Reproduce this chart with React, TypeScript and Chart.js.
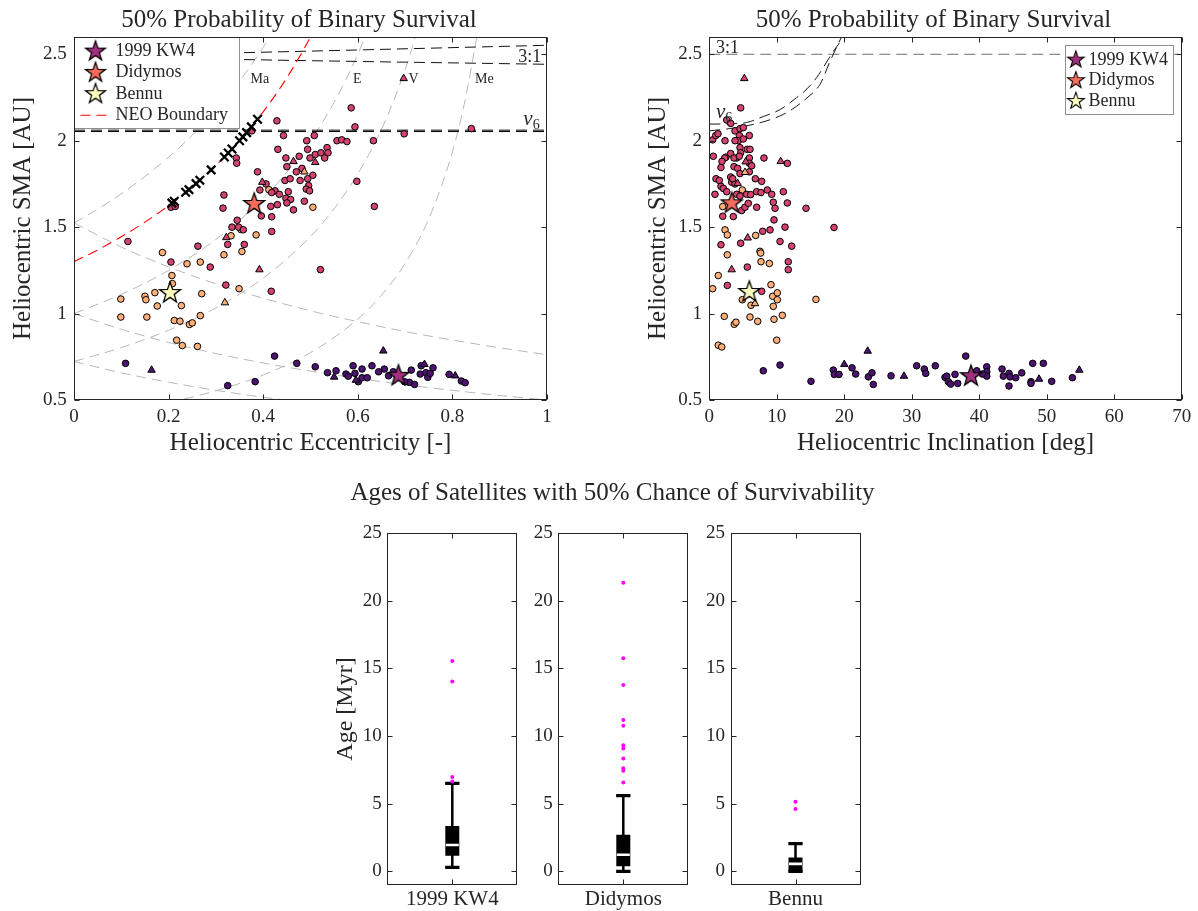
import React, { useEffect, useRef } from 'react';
import { Chart, registerables } from 'chart.js';

Chart.register(...registerables);

const FONT = '"Liberation Serif", "Times New Roman", serif';
const INK = '#262626';

// ---------- colours
const C_PURPLE = '#4c1470';
const C_CRIMSON = '#d3436e';
const C_ORANGE = '#feb078';
const C_KW4 = '#a1307e';
const C_DIDY = '#f56b5c';
const C_BENNU = '#fcfdbf';

// ---------- tick values
const eccTicks = [0, 0.2, 0.4, 0.6, 0.8, 1];
const incTicks = [0, 10, 20, 30, 40, 50, 60, 70];
const smaTicks = [0.5, 1, 1.5, 2, 2.5];
const ageTicks = [0, 5, 10, 15, 20, 25];

// ---------- targets
const targetNames = ['1999 KW4', 'Didymos', 'Bennu'];
const targetEcc = [0.686, 0.381, 0.203];
const targetSmaLeft = [0.64, 1.634, 1.119];
const targetInc = [38.78, 3.32, 5.93];
const targetSmaRight = [0.638, 1.638, 1.125];

// ---------- left panel: eccentricity vs SMA
const leftCrimsonCircles = [
  [0.429, 2.115], [0.586, 2.19], [0.594, 2.08], [0.443, 2.03], [0.508, 2.03], [0.492, 2.0], [0.556, 2.0],
  [0.566, 2.005], [0.577, 1.995], [0.633, 2.0], [0.431, 1.95], [0.494, 1.95], [0.51, 1.92], [0.522, 1.93],
  [0.535, 1.96], [0.537, 1.93], [0.53, 1.9], [0.476, 1.91], [0.499, 1.9], [0.448, 1.9], [0.343, 1.9],
  [0.344, 1.87], [0.45, 1.85], [0.482, 1.84], [0.505, 1.8], [0.47, 1.82], [0.446, 1.77], [0.457, 1.78],
  [0.478, 1.77], [0.494, 1.78], [0.496, 1.74], [0.491, 1.72], [0.498, 1.71], [0.453, 1.705], [0.425, 1.71],
  [0.434, 1.69], [0.598, 1.765], [0.388, 1.82], [0.406, 1.75], [0.393, 1.715], [0.418, 1.7], [0.317, 1.686],
  [0.315, 1.61], [0.448, 1.667], [0.458, 1.66], [0.487, 1.65], [0.43, 1.63], [0.416, 1.62], [0.45, 1.64],
  [0.464, 1.6], [0.418, 1.56], [0.396, 1.565], [0.345, 1.54], [0.334, 1.5], [0.348, 1.5], [0.358, 1.485],
  [0.418, 1.475], [0.635, 1.62], [0.376, 2.057], [0.205, 1.615], [0.214, 1.62], [0.698, 2.04], [0.84, 2.07],
  [0.114, 1.417], [0.262, 1.39], [0.325, 1.4], [0.36, 1.4], [0.205, 1.298], [0.288, 1.269], [0.521, 1.254],
  [0.321, 1.165], [0.417, 1.129],
];
const leftOrangeCircles = [
  [0.412, 1.717], [0.505, 1.615], [0.353, 1.486], [0.332, 1.45], [0.385, 1.455], [0.355, 1.359], [0.317, 1.34],
  [0.187, 1.353], [0.239, 1.288], [0.267, 1.298], [0.207, 1.22], [0.208, 1.173], [0.349, 1.144], [0.27, 1.115],
  [0.171, 1.121], [0.099, 1.084], [0.15, 1.1], [0.152, 1.08], [0.176, 1.044], [0.227, 1.046], [0.099, 0.98],
  [0.154, 0.98], [0.212, 0.96], [0.224, 0.956], [0.244, 0.937], [0.25, 0.946], [0.267, 0.988], [0.217, 0.846],
  [0.229, 0.815], [0.261, 0.81],
];
const leftPurpleCircles = [
  [0.109, 0.712], [0.424, 0.754], [0.325, 0.583], [0.383, 0.606], [0.471, 0.712], [0.51, 0.692], [0.536, 0.658],
  [0.554, 0.669], [0.575, 0.65], [0.58, 0.638], [0.59, 0.698], [0.594, 0.654], [0.601, 0.606], [0.609, 0.679],
  [0.609, 0.629], [0.62, 0.629], [0.63, 0.698], [0.644, 0.663], [0.656, 0.679], [0.665, 0.64], [0.675, 0.663],
  [0.709, 0.602], [0.713, 0.673], [0.72, 0.59], [0.699, 0.606], [0.734, 0.698], [0.732, 0.65], [0.744, 0.658],
  [0.748, 0.631], [0.753, 0.654], [0.759, 0.686], [0.793, 0.648], [0.819, 0.61], [0.827, 0.6],
];
const leftCrimsonTriangles = [[0.464, 1.88], [0.51, 1.875], [0.398, 1.76], [0.322, 1.44], [0.392, 1.254], [0.697, 2.36]];
const leftOrangeTriangles = [[0.487, 1.82], [0.319, 1.063]];
const leftPurpleTriangles = [[0.164, 0.673], [0.654, 0.784], [0.55, 0.633], [0.596, 0.615], [0.741, 0.706], [0.806, 0.64]];
const neoCrossings = [
  [0.207, 1.639], [0.212, 1.65], [0.236, 1.702], [0.243, 1.717], [0.258, 1.752], [0.266, 1.771], [0.29, 1.831],
  [0.318, 1.906], [0.326, 1.929], [0.334, 1.952], [0.35, 2.0], [0.357, 2.022], [0.365, 2.047], [0.375, 2.08],
  [0.388, 2.124],
];

// reference curves (eccentricity, SMA)
const neoBoundary = [[0, 1.3], [0.05, 1.368], [0.1, 1.444], [0.15, 1.529], [0.2, 1.625], [0.25, 1.733], [0.3, 1.857], [0.35, 2.0], [0.4, 2.167], [0.45, 2.364], [0.5, 2.6], [0.52, 2.708]];
const marsPerihelion = [[0, 1.524], [0.05, 1.604], [0.1, 1.693], [0.15, 1.793], [0.2, 1.905], [0.25, 2.032], [0.3, 2.177], [0.35, 2.345], [0.4, 2.54], [0.42, 2.628]];
const earthPerihelion = [[0, 1], [0.1, 1.111], [0.2, 1.25], [0.3, 1.429], [0.4, 1.667], [0.45, 1.818], [0.5, 2.0], [0.55, 2.222], [0.6, 2.5], [0.62, 2.632]];
const venusPerihelion = [[0, 0.723], [0.1, 0.803], [0.2, 0.904], [0.3, 1.033], [0.4, 1.205], [0.5, 1.446], [0.55, 1.607], [0.6, 1.808], [0.65, 2.066], [0.7, 2.41], [0.73, 2.678]];
const mercuryPerihelion = [[0.2, 0.484], [0.3, 0.553], [0.4, 0.645], [0.5, 0.774], [0.6, 0.968], [0.65, 1.106], [0.7, 1.29], [0.75, 1.548], [0.8, 1.935], [0.825, 2.211], [0.85, 2.58], [0.86, 2.764]];
const marsAphelion = [[0, 1.524], [0.1, 1.385], [0.2, 1.27], [0.3, 1.172], [0.4, 1.089], [0.5, 1.016], [0.6, 0.953], [0.7, 0.896], [0.8, 0.847], [0.9, 0.802], [1, 0.762]];
const earthAphelion = [[0, 1], [0.1, 0.909], [0.2, 0.833], [0.3, 0.769], [0.4, 0.714], [0.5, 0.667], [0.6, 0.625], [0.7, 0.588], [0.8, 0.556], [0.9, 0.526], [1, 0.5]];
const venusAphelion = [[0, 0.723], [0.1, 0.657], [0.2, 0.603], [0.3, 0.556], [0.4, 0.516], [0.5, 0.482]];
const res31UpperEcc = [[0, 2.49], [0.35, 2.509], [1, 2.552]];
const res31LowerEcc = [[0, 2.49], [0.35, 2.47], [1, 2.442]];
const nu6UpperEcc = [[0, 2.061], [1, 2.061]];
const nu6LowerEcc = [[0, 2.053], [1, 2.053]];

// ---------- right panel: inclination vs SMA
const rightCrimsonCircles = [
  [4.65, 2.19], [2.58, 2.12], [3.17, 2.1], [0.5, 2.005], [0.95, 2.03], [1.29, 2.04], [2.33, 2.0], [3.81, 2.057],
  [4.55, 2.07], [5.04, 2.076], [4.45, 2.03], [4.3, 2.0], [5.04, 2.01], [3.81, 2.0], [5.93, 2.03], [4.55, 1.96],
  [4.65, 1.93], [5.63, 1.95], [6.03, 1.95], [0.59, 1.91], [2.47, 1.905], [2.28, 1.9], [3.17, 1.926], [4.06, 1.9],
  [3.66, 1.9], [4.45, 1.91], [5.93, 1.9], [5.93, 1.87], [8.1, 1.9], [11.56, 1.869], [1.88, 1.88], [1.73, 1.845],
  [3.66, 1.85], [4.2, 1.84], [4.55, 1.81], [5.93, 1.82], [6.28, 1.855], [3.17, 1.79], [0.99, 1.78], [1.48, 1.77],
  [0.84, 1.69], [1.73, 1.736], [2.08, 1.724], [2.58, 1.705], [3.32, 1.76], [3.81, 1.75], [3.47, 1.78], [4.06, 1.69],
  [4.55, 1.68], [5.54, 1.69], [6.82, 1.78], [7.76, 1.765], [7.02, 1.705], [7.66, 1.7], [8.6, 1.715], [9.25, 1.69],
  [10.97, 1.705], [11.56, 1.64], [1.99, 1.563], [3.56, 1.561], [4.8, 1.596], [5.29, 1.615], [5.78, 1.638],
  [6.13, 1.688], [7.02, 1.615], [9.48, 1.644], [9.74, 1.609], [9.59, 1.542], [14.33, 1.609], [18.48, 1.498],
  [9.0, 1.484], [7.91, 1.476], [11.22, 1.5], [4.65, 1.407], [1.73, 1.398], [10.48, 1.417], [12.21, 1.39],
  [11.7, 1.3], [11.7, 1.254], [5.63, 1.269], [2.67, 1.163], [7.76, 1.129],
];
const rightOrangeCircles = [
  [4.89, 1.715], [1.99, 1.619], [2.33, 1.484], [2.67, 1.455], [6.87, 1.452], [7.51, 1.36], [7.61, 1.35], [2.67, 1.34],
  [7.66, 1.3], [8.89, 1.29], [1.33, 1.22], [0.5, 1.144], [9.14, 1.167], [9.39, 1.1], [10.08, 1.12], [10.08, 1.08],
  [15.8, 1.082], [4.89, 1.08], [6.18, 1.048], [9.48, 1.042], [2.22, 0.984], [3.7, 0.938], [3.95, 0.95], [6.03, 0.98],
  [7.17, 0.955], [9.59, 0.967], [10.82, 0.99], [1.33, 0.817], [1.84, 0.807], [9.99, 0.846],
];
const rightPurpleCircles = [
  [8.0, 0.669], [10.48, 0.702], [15.07, 0.608], [18.38, 0.673], [18.53, 0.648], [19.22, 0.648], [21.15, 0.686],
  [21.69, 0.65], [23.57, 0.634], [24.11, 0.657], [24.3, 0.59], [26.93, 0.64], [30.73, 0.698], [31.86, 0.679],
  [32.07, 0.654], [33.49, 0.698], [34.93, 0.631], [35.18, 0.638], [35.42, 0.606], [35.77, 0.592], [36.41, 0.648],
  [36.81, 0.596], [38.0, 0.754], [39.63, 0.669], [41.11, 0.692], [41.11, 0.663], [41.11, 0.638], [40.46, 0.65],
  [43.38, 0.679], [43.57, 0.638], [44.41, 0.654], [44.56, 0.634], [44.41, 0.581], [45.41, 0.629], [46.3, 0.657],
  [47.67, 0.606], [47.67, 0.596], [47.92, 0.712], [49.5, 0.712], [50.74, 0.608], [53.8, 0.629],
];
const rightCrimsonTriangles = [[5.19, 2.36], [10.58, 1.88], [5.39, 1.878], [4.2, 1.753], [5.69, 1.438], [3.32, 1.254]];
const rightOrangeTriangles = [[5.29, 1.817], [6.77, 1.058]];
const rightPurpleTriangles = [[20.0, 0.706], [23.47, 0.783], [28.85, 0.638], [48.86, 0.621], [54.83, 0.673]];
const res31Inc = [[0, 2.5], [70, 2.5]];
const nu6UpperInc = [[0, 2.096], [3, 2.098], [5.5, 2.105], [8, 2.14], [10.5, 2.18], [12.95, 2.25], [13.9, 2.278], [15.9, 2.365], [18.1, 2.5], [19.86, 2.6], [20.3, 2.63]];
const nu6LowerInc = [[0, 2.057], [3, 2.07], [5.5, 2.086], [8.5, 2.115], [11, 2.153], [12.95, 2.2], [14.4, 2.245], [16.4, 2.326], [17.9, 2.46], [19.6, 2.6], [20.0, 2.63]];

// ---------- box plots (ages, Myr)
const boxNames = ['1999 KW4', 'Didymos', 'Bennu'];
const boxLowWhisker = [0.3, 0, 0];
const boxQ1 = [1.16, 0.38, 0];
const boxMedian = [1.95, 1.23, 0.56];
const boxQ3 = [3.36, 2.72, 1.04];
const boxHighWhisker = [6.5, 5.6, 2.06];
const boxOutliers = [
  [15.55, 14.04, 6.97, 6.65],
  [21.32, 15.75, 13.77, 11.18, 10.77, 9.32, 9.08, 8.35, 7.62, 7.43, 6.58],
  [5.15, 4.62],
];

// ---------- text annotations (data coordinates)
const leftCurveLabels = [
  { text: 'Ma', x: 0.373, y: 2.335 },
  { text: 'E', x: 0.59, y: 2.335 },
  { text: 'V', x: 0.707, y: 2.335 },
  { text: 'Me', x: 0.848, y: 2.335 },
];
const leftResonanceLabels = [
  { text: '3:1', x: 0.939, y: 2.455 },
  { text: 'ν', sub: '6', x: 0.95, y: 2.09 },
];
const rightResonanceLabels = [
  { text: '3:1', x: 0.99, y: 2.51 },
  { text: 'ν', sub: '6', x: 0.99, y: 2.134 },
];

// ---------- helpers
const P = (arr: number[][]) => arr.map(([x, y]) => ({ x, y }));

function starCanvas(fill: string, R: number): HTMLCanvasElement {
  const size = Math.ceil(2 * R + 8);
  const c = document.createElement('canvas');
  c.width = size;
  c.height = size;
  const g = c.getContext('2d')!;
  const cx = size / 2, cy = size / 2;
  g.beginPath();
  for (let k = 0; k < 10; k++) {
    const r = k % 2 === 0 ? R : R * 0.4;
    const ang = -Math.PI / 2 + (k * Math.PI) / 5;
    const px = cx + r * Math.cos(ang), py = cy + r * Math.sin(ang);
    if (k === 0) g.moveTo(px, py); else g.lineTo(px, py);
  }
  g.closePath();
  g.fillStyle = fill;
  g.fill();
  g.lineWidth = 1.3;
  g.strokeStyle = '#000';
  g.lineJoin = 'miter';
  g.stroke();
  return c;
}

function curve(label: string, arr: number[][], color: string, dash: number[], width = 1) {
  return {
    label, data: P(arr), showLine: true, borderColor: color, borderWidth: width, borderDash: dash,
    pointRadius: 0, pointHoverRadius: 0, fill: false, cubicInterpolationMode: 'monotone',
  };
}
function marks(label: string, arr: number[][], fill: string, style: any, radius: number, extra: any = {}) {
  return {
    label, data: P(arr), showLine: false, pointStyle: style, pointRadius: radius, pointHoverRadius: radius,
    backgroundColor: fill, borderColor: '#000', borderWidth: 1, ...extra,
  };
}
function seg(label: string, pts: { x: number; y: number }[], color: string, width: number) {
  return { label, data: pts, showLine: true, borderColor: color, borderWidth: width, pointRadius: 0, pointHoverRadius: 0, fill: false, borderCapStyle: 'butt' };
}
// array order = bottom-to-top drawing order
function stackOrder(ds: any[]) {
  const n = ds.length;
  return ds.map((d, i) => ({ ...d, order: n - i, xAxisID: 'x', yAxisID: 'y' }));
}

function axis(min: number, max: number, ticks: number[], size: number, pad: number, fmt: (v: number) => string, title?: any) {
  return {
    type: 'linear', min, max,
    afterBuildTicks: (s: any) => { s.ticks = ticks.map((v) => ({ value: v })); },
    ticks: { color: INK, font: { family: FONT, size }, padding: pad, autoSkip: false, maxRotation: 0, minRotation: 0, callback: (v: any) => fmt(Number(v)) },
    grid: { display: false, drawTicks: false },
    border: { display: false },
    title: title
      ? { display: true, text: title.text, color: INK, font: { family: FONT, size: title.size, lineHeight: 1.2 }, padding: title.padding }
      : { display: false },
  };
}
function dummyRight(width: number) {
  return {
    type: 'linear', position: 'right', display: true,
    ticks: { display: false }, grid: { display: false, drawTicks: false }, border: { display: false },
    afterFit: (s: any) => { s.width = width; },
  };
}

const decor = {
  id: 'decor',
  afterDatasetsDraw(chart: any, _args: any, opts: any) {
    const { ctx, chartArea: a } = chart;
    const xs = chart.scales.x, ys = chart.scales.y;
    const L = Math.round(a.left) + 0.5, R = Math.round(a.right) - 0.5;
    const T = Math.round(a.top) + 0.5, B = Math.round(a.bottom) - 0.5;
    ctx.save();
    ctx.setLineDash([]);
    // text annotations
    for (const t of opts.texts || []) {
      const px = xs.getPixelForValue(t.x), py = ys.getPixelForValue(t.y);
      ctx.fillStyle = INK;
      ctx.textBaseline = 'alphabetic';
      ctx.textAlign = 'left';
      ctx.font = `${t.sub ? 'italic ' : ''}${t.sub ? opts.greekSize : t.size || opts.textSize}px ${FONT}`;
      ctx.fillText(t.text, px, py);
      if (t.sub) {
        const w = ctx.measureText(t.text).width;
        ctx.font = `${opts.subSize}px ${FONT}`;
        ctx.fillText(t.sub, px + w, py + opts.subSize * 0.3);
      }
    }
    // inward ticks on all sides
    const tl = opts.tickLen || 5;
    ctx.strokeStyle = INK;
    ctx.lineWidth = 1;
    ctx.beginPath();
    for (const t of xs.ticks) {
      const px = Math.round(xs.getPixelForValue(t.value)) + 0.5;
      ctx.moveTo(px, B); ctx.lineTo(px, B - tl);
      ctx.moveTo(px, T); ctx.lineTo(px, T + tl);
    }
    for (const t of ys.ticks) {
      const py = Math.round(ys.getPixelForValue(t.value)) + 0.5;
      ctx.moveTo(L, py); ctx.lineTo(L + tl, py);
      ctx.moveTo(R, py); ctx.lineTo(R - tl, py);
    }
    ctx.stroke();
    // legend
    const lg = opts.legend;
    if (lg) {
      const bx = Math.round(lg.corner === 'tr' ? a.right - lg.dx - lg.w : a.left + lg.dx) + 0.5;
      const by = Math.round(a.top + lg.dy) + 0.5;
      ctx.fillStyle = '#fff';
      ctx.fillRect(bx, by, lg.w, lg.h);
      ctx.strokeStyle = lg.edge;
      ctx.strokeRect(bx, by, lg.w, lg.h);
      lg.items.forEach((label: string, i: number) => {
        const ds = chart.data.datasets.find((d: any) => d.label === label);
        const cy = by + lg.row0 + i * lg.rowGap;
        const sx = bx + lg.symX;
        if (ds && ds.pointStyle instanceof HTMLCanvasElement) {
          const img = ds.pointStyle as HTMLCanvasElement;
          const w = img.width * lg.symScale, h = img.height * lg.symScale;
          ctx.drawImage(img, sx - w / 2, cy - h / 2, w, h);
        } else if (ds) {
          ctx.strokeStyle = ds.borderColor;
          ctx.lineWidth = ds.borderWidth;
          ctx.setLineDash(ds.borderDash || []);
          ctx.beginPath();
          ctx.moveTo(sx - lg.lineHalf, cy);
          ctx.lineTo(sx + lg.lineHalf, cy);
          ctx.stroke();
          ctx.setLineDash([]);
        }
        ctx.fillStyle = INK;
        ctx.font = `${lg.size}px ${FONT}`;
        ctx.textBaseline = 'middle';
        ctx.textAlign = 'left';
        ctx.fillText(label, bx + lg.textX, cy);
      });
    }
    // axes box
    ctx.strokeStyle = INK;
    ctx.lineWidth = 1;
    ctx.strokeRect(L, T, R - L, B - T);
    ctx.restore();
  },
};

const GREY = '#b8b8b8';
const DASH = [10, 6];

function leftConfig(stars: HTMLCanvasElement[]) {
  const datasets = stackOrder([
    curve('Mars perihelion', marsPerihelion, GREY, DASH),
    curve('Earth perihelion', earthPerihelion, GREY, DASH),
    curve('Venus perihelion', venusPerihelion, GREY, DASH),
    curve('Mercury perihelion', mercuryPerihelion, GREY, DASH),
    curve('Mars aphelion', marsAphelion, GREY, DASH),
    curve('Earth aphelion', earthAphelion, GREY, DASH),
    curve('Venus aphelion', venusAphelion, GREY, DASH),
    curve('3:1 upper', res31UpperEcc, '#111', [11, 6]),
    curve('3:1 lower', res31LowerEcc, '#111', [11, 6]),
    curve('nu6 upper', nu6UpperEcc, '#000', [11, 6]),
    curve('nu6 lower', nu6LowerEcc, '#000', [11, 6]),
    curve('NEO Boundary', neoBoundary, '#ff0000', [10, 6], 1.1),
    marks('orange', leftOrangeCircles, C_ORANGE, 'circle', 3.3),
    marks('crimson', leftCrimsonCircles, C_CRIMSON, 'circle', 3.3),
    marks('purple', leftPurpleCircles, C_PURPLE, 'circle', 3.3),
    marks('orange tri', leftOrangeTriangles, C_ORANGE, 'triangle', 4.3),
    marks('crimson tri', leftCrimsonTriangles, C_CRIMSON, 'triangle', 4.3),
    marks('purple tri', leftPurpleTriangles, C_PURPLE, 'triangle', 4.3),
    marks('NEO crossings', neoCrossings, '#000', 'crossRot', 6, { borderWidth: 2.3 }),
    ...targetNames.map((n, k) => marks(n, [[targetEcc[k], targetSmaLeft[k]]], '#000', stars[k], 10)),
  ]);
  return {
    type: 'scatter',
    data: { datasets },
    plugins: [decor],
    options: {
      animation: false, responsive: false, devicePixelRatio: 1, events: [],
      layout: { padding: 0 },
      scales: {
        x: { ...axis(0, 1, eccTicks, 19, 6, (v) => String(v), { text: 'Heliocentric Eccentricity [-]', size: 25, padding: { top: 0, bottom: 1.7 } }), position: 'bottom', afterFit: (s: any) => { s.height = 60; } },
        y: { ...axis(0.5, 2.6, smaTicks, 19, 7.3, (v) => String(v), { text: 'Heliocentric SMA [AU]', size: 25, padding: { top: 8.3, bottom: 0 } }), position: 'left', afterFit: (s: any) => { s.width = 74; } },
        yR: dummyRight(51),
      },
      plugins: {
        legend: { display: false },
        tooltip: { enabled: false },
        title: { display: true, text: '50% Probability of Binary Survival', color: INK, font: { family: FONT, size: 25, weight: 'normal', lineHeight: 1.2 }, padding: { top: 5.9, bottom: 1.1 } },
        decor: {
          texts: [...leftCurveLabels.map((t) => ({ ...t, size: 14 })), ...leftResonanceLabels.map((t) => ({ ...t, size: 18 }))],
          greekSize: 21, subSize: 14, textSize: 14, tickLen: 5,
          legend: { corner: 'tl', dx: 0, dy: 0, w: 165, h: 91, row0: 13.9, rowGap: 21.3, symX: 21, textX: 41, symScale: 0.95, lineHalf: 15, size: 18, edge: '#8f8f8f', items: [...targetNames, 'NEO Boundary'] },
        },
      },
    },
  };
}

function rightConfig(stars: HTMLCanvasElement[]) {
  const datasets = stackOrder([
    curve('3:1', res31Inc, '#6e6e6e', [11, 6]),
    curve('nu6 upper', nu6UpperInc, '#1a1a1a', [11, 6]),
    curve('nu6 lower', nu6LowerInc, '#1a1a1a', [11, 6]),
    marks('orange', rightOrangeCircles, C_ORANGE, 'circle', 3.3),
    marks('crimson', rightCrimsonCircles, C_CRIMSON, 'circle', 3.3),
    marks('purple', rightPurpleCircles, C_PURPLE, 'circle', 3.3),
    marks('orange tri', rightOrangeTriangles, C_ORANGE, 'triangle', 4.3),
    marks('crimson tri', rightCrimsonTriangles, C_CRIMSON, 'triangle', 4.3),
    marks('purple tri', rightPurpleTriangles, C_PURPLE, 'triangle', 4.3),
    ...targetNames.map((n, k) => marks(n, [[targetInc[k], targetSmaRight[k]]], '#000', stars[k], 10)),
  ]);
  return {
    type: 'scatter',
    data: { datasets },
    plugins: [decor],
    options: {
      animation: false, responsive: false, devicePixelRatio: 1, events: [],
      layout: { padding: 0 },
      scales: {
        x: { ...axis(0, 70, incTicks, 19, 6, (v) => String(v), { text: 'Heliocentric Inclination [deg]', size: 25, padding: { top: 0, bottom: 1.7 } }), position: 'bottom', afterFit: (s: any) => { s.height = 60; } },
        y: { ...axis(0.5, 2.6, smaTicks, 19, 7.3, (v) => String(v), { text: 'Heliocentric SMA [AU]', size: 25, padding: { top: 3.6, bottom: 0 } }), position: 'left', afterFit: (s: any) => { s.width = 69.3; } },
        yR: dummyRight(45.3),
      },
      plugins: {
        legend: { display: false },
        tooltip: { enabled: false },
        title: { display: true, text: '50% Probability of Binary Survival', color: INK, font: { family: FONT, size: 25, weight: 'normal', lineHeight: 1.2 }, padding: { top: 5.9, bottom: 1.1 } },
        decor: {
          texts: rightResonanceLabels.map((t) => ({ ...t, size: 18 })),
          greekSize: 21, subSize: 14, textSize: 18, tickLen: 5,
          legend: { corner: 'tr', dx: 9, dy: 8, w: 108, h: 69, row0: 14.3, rowGap: 20.7, symX: 10.4, textX: 23, symScale: 0.8, lineHalf: 10, size: 18, edge: '#8f8f8f', items: targetNames },
        },
      },
    },
  };
}

const CAP = 0.055;
const MED = 0.05;
const BOX_TOP = 63; // canvas-relative top of the box-plot axes

function boxConfig(k: number, o: { yWidth: number; rightWidth?: number; padRight?: number; title?: boolean; yTitle?: boolean }) {
  const datasets = stackOrder([
    seg('whisker', [{ x: 1, y: boxLowWhisker[k] }, { x: 1, y: boxHighWhisker[k] }], '#000', 2.5),
    seg('upper cap', [{ x: 1 - CAP, y: boxHighWhisker[k] }, { x: 1 + CAP, y: boxHighWhisker[k] }], '#000', 3.2),
    seg('lower cap', [{ x: 1 - CAP, y: boxLowWhisker[k] }, { x: 1 + CAP, y: boxLowWhisker[k] }], '#000', 3.2),
    seg('box', [{ x: 1, y: boxQ1[k] }, { x: 1, y: boxQ3[k] }], '#000', 14),
    seg('median', [{ x: 1 - MED, y: boxMedian[k] }, { x: 1 + MED, y: boxMedian[k] }], '#ffffff', 2.6),
    { label: 'outliers', data: boxOutliers[k].map((y) => ({ x: 1, y })), showLine: false, pointStyle: 'circle', pointRadius: 2, pointHoverRadius: 2, backgroundColor: '#ff00ff', borderWidth: 0 },
  ]);
  const scales: any = {
    x: { ...axis(0.5, 1.5, [1], 21, 2, () => boxNames[k]), position: 'bottom', afterFit: (s: any) => { s.height = 45; } },
    y: {
      ...axis(-1, 25, ageTicks, 19, 5.6, (v) => String(v), o.yTitle ? { text: 'Age [Myr]', size: 24, padding: { top: 11.5, bottom: 0 } } : undefined),
      position: 'left', afterFit: (s: any) => { s.width = o.yWidth; },
    },
  };
  if (o.rightWidth) scales.yR = dummyRight(o.rightWidth);
  return {
    type: 'scatter',
    data: { datasets },
    plugins: [decor],
    options: {
      animation: false, responsive: false, devicePixelRatio: 1, events: [],
      layout: { padding: { top: o.title ? 0 : BOX_TOP, right: o.padRight || 0, left: 0, bottom: 0 } },
      scales,
      plugins: {
        legend: { display: false },
        tooltip: { enabled: false },
        title: o.title
          ? { display: true, text: 'Ages of Satellites with 50% Chance of Survivability', color: INK, font: { family: FONT, size: 25, weight: 'normal', lineHeight: 1.2 }, padding: { top: 8.6, bottom: BOX_TOP - 38.6 } }
          : { display: false },
        decor: { texts: [], tickLen: 5 },
      },
    },
  };
}

export default function App() {
  const r1 = useRef<HTMLCanvasElement>(null);
  const r2 = useRef<HTMLCanvasElement>(null);
  const r3 = useRef<HTMLCanvasElement>(null);
  const r4 = useRef<HTMLCanvasElement>(null);
  const r5 = useRef<HTMLCanvasElement>(null);

  useEffect(() => {
    const starColors = [C_KW4, C_DIDY, C_BENNU];
    const stars = starColors.map((c) => starCanvas(c, 11));
    const charts: Chart[] = [];
    charts.push(new Chart(r1.current!, leftConfig(stars) as any));
    charts.push(new Chart(r2.current!, rightConfig(stars) as any));
    charts.push(new Chart(r3.current!, boxConfig(0, { yWidth: 67.3, padRight: 12.7, yTitle: true }) as any));
    charts.push(new Chart(r4.current!, boxConfig(1, { yWidth: 226.3, rightWidth: 204.7, title: true }) as any));
    charts.push(new Chart(r5.current!, boxConfig(2, { yWidth: 70.5, padRight: 29.5 }) as any));
    return () => charts.forEach((c) => c.destroy());
  }, []);

  const abs = (left: number, top: number): React.CSSProperties => ({ position: 'absolute', left, top });
  return (
    <div style={{ position: 'fixed', left: 0, top: 0, width: 1198, height: 911, overflow: 'hidden', background: '#fff' }}>
      <canvas ref={r1} width={598} height={460} style={abs(0, 0)} />
      <canvas ref={r2} width={587} height={460} style={abs(640, 0)} />
      <canvas ref={r3} width={210} height={460} style={abs(320, 470)} />
      <canvas ref={r4} width={561} height={460} style={abs(332, 470)} />
      <canvas ref={r5} width={230} height={460} style={abs(660, 470)} />
    </div>
  );
}
